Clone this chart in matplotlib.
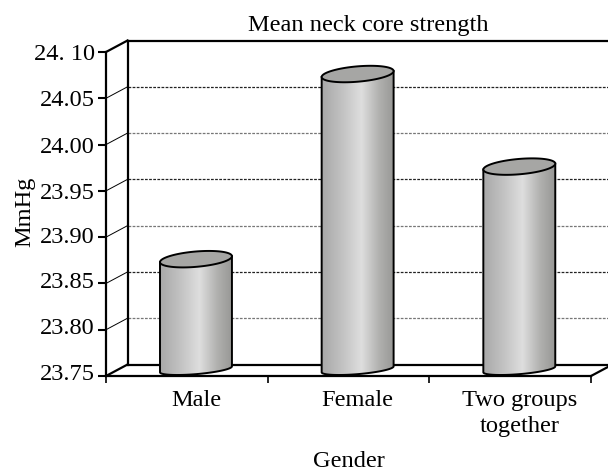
import numpy as np
import matplotlib
matplotlib.use("Agg")
import matplotlib.pyplot as plt
from matplotlib.colors import LinearSegmentedColormap
from matplotlib.patches import PathPatch
from matplotlib.path import Path
from matplotlib.transforms import ScaledTranslation

plt.rcParams["font.family"] = ["Liberation Serif", "DejaVu Serif"]

# Data
categories = ["Male", "Female", "Two groups\ntogether"]
values = [23.87, 24.07, 23.97]
y_ticks = [23.75, 23.80, 23.85, 23.90, 23.95, 24.00, 24.05, 24.10]
y_tick_labels = ["23.75", "23.80", "23.85", "23.90", "23.95", "24.00", "24.05", "24. 10"]

# Depth of the fake 3D box, in data units
depth_x = 0.133
depth_y = 0.0124

fig = plt.figure(figsize=(6.08, 4.69), dpi=100)
ax = fig.add_axes([106 / 608, 93 / 469, 485 / 608, 324 / 469])

x_min, x_max = 0, 3
y_min, y_max = 23.75, 24.10
font_size = 17.6

# Gridlines on the back wall, with the slanted bit on the side wall
for i, v in enumerate(y_ticks):
    if v == y_min or v == y_max:
        continue
    col = "#222222" if i % 2 == 0 else "#777777"
    ax.plot([x_min + depth_x, x_max + depth_x], [v + depth_y] * 2, color=col,
            lw=0.9, ls=(0, (2.2, 1.1)), clip_on=False, zorder=1)
    ax.plot([x_min, x_min + depth_x], [v, v + depth_y], color="black", lw=0.7,
            clip_on=False, zorder=1)

# Box outline
box_lw = 1.6
ax.plot([x_min + depth_x] * 2, [y_min + depth_y, y_max + depth_y], color="black", lw=box_lw, clip_on=False, zorder=2)
ax.plot([x_min + depth_x, x_max + depth_x], [y_max + depth_y] * 2, color="black", lw=box_lw, clip_on=False, zorder=2)
ax.plot([x_min + depth_x, x_max + depth_x], [y_min + depth_y] * 2, color="black", lw=box_lw, clip_on=False, zorder=2)
ax.plot([x_min, x_min + depth_x], [y_max, y_max + depth_y], color="black", lw=box_lw, clip_on=False, zorder=2)
ax.plot([x_min, x_min + depth_x], [y_min, y_min + depth_y], color="black", lw=box_lw, clip_on=False, zorder=2)
ax.plot([x_max, x_max + depth_x], [y_min, y_min + depth_y], color="black", lw=box_lw, clip_on=False, zorder=2)

# Cylinders
shade = LinearSegmentedColormap.from_list(
    "cyl", [(0, "#a8a8a8"), (0.3, "#c4c4c4"), (0.55, "#dedede"), (0.8, "#b0b0ae"), (1, "#989896")]
)
gradient = np.linspace(0, 1, 256).reshape(1, -1)

half_w = 0.2225
ell_b = 0.0083
base_b = 0.0052
ell_skew = 0.0032
t_low = np.linspace(np.pi, 2 * np.pi, 60)
t_all = np.linspace(0, 2 * np.pi, 120)
centers = [i + 0.5 + depth_x / 2 - 0.01 for i in range(len(values))]

for xc, v in zip(centers, values):
    base = y_min + depth_y / 2 + 0.001
    top = v + depth_y / 2
    # skewed ellipse edges
    low_x = xc + half_w * np.cos(t_low)
    low_y = base + base_b * np.sin(t_low) + ell_skew * np.cos(t_low)
    top_x = xc + half_w * np.cos(t_all)
    top_y = top + ell_b * np.sin(t_all) + ell_skew * np.cos(t_all)
    left_top = (xc - half_w, top - ell_skew)
    right_top = (xc + half_w, top + ell_skew)

    body = np.vstack([[left_top], np.column_stack([low_x, low_y]), [right_top], [left_top]])
    body_patch = PathPatch(Path(body), facecolor="none", edgecolor="none", transform=ax.transData)
    ax.add_patch(body_patch)
    im = ax.imshow(gradient, cmap=shade, aspect="auto", zorder=3,
                   extent=[xc - half_w, xc + half_w, base - 0.02, top + 0.02])
    im.set_clip_path(body_patch)
    ax.plot(body[:-1, 0], body[:-1, 1], color="black", lw=1.4, zorder=4, clip_on=False)
    ax.fill(top_x, top_y, facecolor="#a6a6a4", edgecolor="black", lw=1.4, zorder=5)

ax.set_xlim(x_min, x_max)
ax.set_ylim(y_min, y_max)

for side in ["top", "right"]:
    ax.spines[side].set_visible(False)
for side in ["left", "bottom"]:
    ax.spines[side].set_linewidth(box_lw)
ax.patch.set_visible(False)

ax.set_yticks(y_ticks)
ax.set_yticklabels(y_tick_labels, fontsize=font_size)
ax.set_xticks([0, 1, 2, 3])
ax.set_xticklabels([])
ax.set_xticks(centers, minor=True)
ax.set_xticklabels(categories, minor=True, fontsize=font_size, linespacing=1.3)
ax.tick_params(axis="x", which="minor", length=0, pad=10)
ax.tick_params(axis="x", which="major", length=5, width=1.2)
ax.tick_params(axis="y", length=6, width=1.5, pad=2)

# the lower value labels sit a little above their ticks
label_nudge = [4, 4, 3, 2, 0, 0, 0, 0]
for lab, up in zip(ax.get_yticklabels(), label_nudge):
    lab.set_transform(lab.get_transform() + ScaledTranslation(0, up / 100, fig.dpi_scale_trans))

ax.set_title("Mean neck core strength", fontsize=font_size, x=0.54, pad=15)
ax.set_xlabel("Gender", fontsize=font_size)
ax.xaxis.set_label_coords(0.5, -0.231)
ax.set_ylabel("MmHg", fontsize=font_size)
ax.yaxis.set_label_coords(-0.146, 0.506)

fig.savefig("out.png", dpi=100)
